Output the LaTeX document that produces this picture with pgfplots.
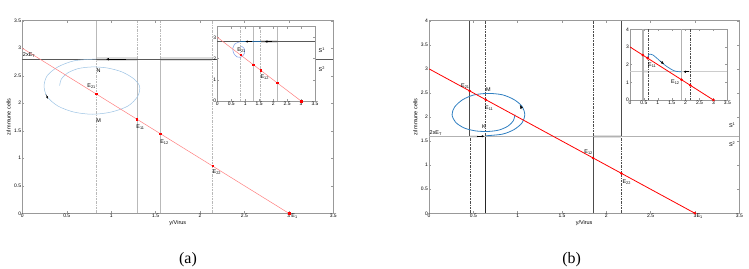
\documentclass[border=0pt]{standalone}
\usepackage{pgfplots}
\pgfplotsset{compat=1.18}
\usepackage{fontspec}
\setmainfont{Liberation Sans}
\newfontfamily\capfont{Liberation Serif}
\usetikzlibrary{arrows.meta}
\definecolor{spirA}{HTML}{9CC3E4}
\definecolor{spirB}{HTML}{2F7FC1}
\definecolor{redA}{HTML}{FF7F7F}
\definecolor{redB}{HTML}{FF0000}
\newcommand{\lab}{\fontsize{5.5}{6.5}\selectfont}
\pgfplotsset{
  common/.style={scale only axis, anchor=south west, clip=false,
    xmin=0, xmax=3.5, xtick={0,0.5,1,1.5,2,2.5,3,3.5},
    tick align=inside, axis line style={gray!80, line width=0.5bp},
    major tick length=2bp, tick style={gray!80, line width=0.4bp},
    ticklabel style={font=\fontsize{5}{6}\selectfont, inner sep=1bp},
    /pgf/number format/assume math mode=true,
    label style={font=\fontsize{5.5}{6.5}\selectfont},
    xlabel style={yshift=2bp}, ylabel style={yshift=-1bp}},
  dd/.style={dash pattern=on 2bp off 1bp on 0.5bp off 1bp},
}
\begin{document}
\begin{tikzpicture}[x=1bp,y=1bp]
\path[use as bounding box] (0,0) rectangle (749,268);

%================ (a) main ================
\begin{axis}[common, at={(22.3bp,54.7bp)}, width=311bp, height=192.6bp,
  ymin=0, ymax=3.5, ytick={0,0.5,1,1.5,2,2.5,3,3.5},
  xlabel={y/Virus}, ylabel={z/Immune cells}]
\addplot[gray!25, line width=3.5bp] coordinates {(0.83,2.8) (1.29,2.8)};
\addplot[gray!25, line width=3.5bp] coordinates {(1.55,2.8) (2.14,2.8)};
\addplot[gray!55, line width=0.5bp] coordinates {(0.83,2.8) (0.83,3.5)};
\addplot[gray!55, line width=0.5bp, dd] coordinates {(0.83,0) (0.83,2.8)};
\addplot[gray!55, line width=0.5bp, dd] coordinates {(1.29,2.8) (1.29,3.5)};
\addplot[gray!55, line width=0.5bp] coordinates {(1.29,0) (1.29,2.8)};
\addplot[gray!55, line width=0.5bp, dd] coordinates {(1.55,2.8) (1.55,3.5)};
\addplot[gray!55, line width=0.5bp] coordinates {(1.55,0) (1.55,2.8)};
\addplot[gray!55, line width=0.5bp, dd] coordinates {(2.14,0) (2.14,3.5)};
\addplot[gray!70!black, line width=0.5bp] coordinates {(0,2.8) (3.5,2.8)};
\addplot[spirA, smooth, line width=0.5bp] coordinates {
 (0.42,2.32) (0.44,2.44) (0.51,2.55) (0.63,2.63) (0.79,2.66) (0.96,2.64) (1.12,2.57)
 (1.25,2.45) (1.32,2.31) (1.30,2.13) (1.19,1.95) (1.00,1.84) (0.79,1.80) (0.58,1.84)
 (0.40,1.95) (0.28,2.12) (0.245,2.31) (0.28,2.50) (0.40,2.66) (0.58,2.77) (0.79,2.80) (0.83,2.80)};
\addplot[black, line width=1.1bp, -{Latex[length=3bp,width=2.6bp]}] coordinates {(1.17,2.8) (0.94,2.8)};
\addplot[black, line width=0.3bp, -{Latex[length=2.5bp,width=2bp]}] coordinates {(0.265,2.16) (0.29,2.08)};
\addplot[redA, line width=0.5bp] coordinates {(0,3) (3,0)};
\addplot[only marks, mark=square*, mark size=0.7bp, red] coordinates {(0.83,2.17) (1.29,1.71) (1.55,1.45) (2.14,0.86)};
\addplot[only marks, mark=square*, mark size=1.1bp, red] coordinates {(3,0)};
\node[font=\lab, anchor=west, inner sep=0.5bp] at (axis cs:0.0,2.87) {2xE\textsubscript{T}};
\node[font=\lab] at (axis cs:0.86,2.59) {N};
\node[font=\lab] at (axis cs:0.86,1.68) {M};
\node[font=\lab] at (axis cs:0.78,2.31) {E\textsubscript{21}};
\node[font=\lab] at (axis cs:1.33,1.56) {E\textsubscript{11}};
\node[font=\lab] at (axis cs:1.60,1.29) {E\textsubscript{12}};
\node[font=\lab] at (axis cs:2.19,0.74) {E\textsubscript{22}};
\node[font=\lab, anchor=west, inner sep=0.5bp] at (axis cs:3.02,-0.05) {E\textsubscript{1}};
\node[font=\lab] at (axis cs:3.37,2.96) {S\textsuperscript{1}};
\node[font=\lab] at (axis cs:3.37,2.61) {S\textsuperscript{2}};
\end{axis}

%================ (a) inset ================
\begin{axis}[common, at={(217.3bp,167bp)}, width=97.7bp, height=74.3bp,
  ymin=0, ymax=3.5, ytick={0,1,2,3}, axis background/.style={fill=white}]
\addplot[gray!25, line width=3bp] coordinates {(1.55,2.8) (2.14,2.8)};
\addplot[gray!55, line width=0.5bp, dd] coordinates {(0.83,0) (0.83,3.5)};
\addplot[gray!55, line width=0.5bp] coordinates {(1.29,0) (1.29,3.5)};
\addplot[gray!55, line width=0.5bp, dd] coordinates {(1.55,0) (1.55,3.5)};
\addplot[gray!55, line width=0.5bp] coordinates {(2.14,0) (2.14,3.5)};
\addplot[gray!70!black, line width=0.5bp] coordinates {(0,2.8) (3.5,2.8)};
\addplot[spirB!80!black, line width=0.7bp] coordinates {(0.83,2.8) (1.55,2.8)};
\addplot[spirA!80!blue, smooth, line width=0.5bp] coordinates {
 (0.80,2.78) (0.64,2.70) (0.56,2.50) (0.58,2.27) (0.70,2.08) (0.87,2.08) (0.98,2.27) (0.96,2.48) (0.86,2.58)};
\addplot[black, line width=1bp, -{Latex[length=2.5bp,width=2.4bp]}] coordinates {(1.25,2.8) (1.0,2.8)};
\addplot[black, line width=1bp, -{Latex[length=2.5bp,width=2.4bp]}] coordinates {(1.95,2.8) (1.7,2.8)};
\addplot[redA, line width=0.5bp] coordinates {(0,3) (3,0)};
\addplot[only marks, mark=square*, mark size=0.7bp, red] coordinates {(0.83,2.17) (1.29,1.71) (1.55,1.45) (2.14,0.86)};
\addplot[only marks, mark=square*, mark size=1.1bp, red] coordinates {(3,0)};
\node[font=\lab] at (axis cs:0.87,2.42) {E\textsubscript{21}};
\node[font=\lab] at (axis cs:1.70,1.12) {E\textsubscript{12}};
\end{axis}

%================ (b) main ================
\begin{axis}[common, at={(429bp,54.7bp)}, width=310.3bp, height=192.6bp,
  ymin=0, ymax=4, ytick={0,0.5,1,1.5,2,2.5,3,3.5,4},
  xlabel={y/Virus}, ylabel={z/Immune cells}]
\addplot[gray!25, line width=3.5bp] coordinates {(1.85,1.6) (2.17,1.6)};
\addplot[gray!15, line width=3bp] coordinates {(0.46,1.6) (0.55,1.6)};
\addplot[gray!60!black, line width=0.6bp] coordinates {(0.46,1.6) (0.46,4)};
\addplot[gray!60!black, line width=0.5bp, dd] coordinates {(0.46,0) (0.46,1.6)};
\addplot[gray!60!black, line width=0.5bp, dd] coordinates {(0.635,1.6) (0.635,4)};
\addplot[black!85, line width=0.6bp] coordinates {(0.635,0) (0.635,1.6)};
\addplot[gray!60!black, line width=0.5bp, dd] coordinates {(1.85,1.6) (1.85,4)};
\addplot[gray!60!black, line width=0.6bp] coordinates {(1.85,0) (1.85,1.6)};
\addplot[gray!60!black, line width=0.6bp] coordinates {(2.17,1.6) (2.17,4)};
\addplot[gray!60!black, line width=0.5bp, dd] coordinates {(2.17,0) (2.17,1.6)};
\addplot[gray!60, line width=0.6bp] coordinates {(0,1.6) (3.5,1.6)};
\addplot[black, line width=0.8bp, -{Latex[length=2.5bp,width=2.4bp]}] coordinates {(0.54,1.6) (0.625,1.6)};
\addplot[spirB, smooth, line width=0.8bp] coordinates {
 (0.64,1.61) (0.83,1.645) (0.96,1.74) (1.05,1.88) (1.08,2.05) (1.05,2.22) (0.96,2.36) (0.83,2.46)
 (0.67,2.49) (0.51,2.46) (0.38,2.36) (0.29,2.21) (0.26,2.05) (0.30,1.89) (0.40,1.77) (0.53,1.71)
 (0.67,1.70) (0.79,1.73) (0.89,1.81) (0.95,1.92) (0.97,2.05)};
\addplot[black, line width=0.3bp, -{Latex[length=3.5bp,width=3bp]}] coordinates {(1.05,2.16) (1.025,2.25)};
\addplot[redB, line width=0.8bp] coordinates {(0,3) (3,0)};
\addplot[only marks, mark=*, mark size=1.1bp, redB] coordinates {(0.46,2.54) (0.64,2.36) (1.85,1.15) (2.17,0.83) (3,0)};
\node[font=\lab, anchor=west, inner sep=0.5bp] at (axis cs:0.0,1.67) {2xE\textsubscript{T}};
\node[font=\lab] at (axis cs:0.41,2.64) {E\textsubscript{21}};
\node[font=\lab] at (axis cs:0.67,2.56) {M};
\node[font=\lab] at (axis cs:0.68,2.19) {E\textsubscript{11}};
\node[font=\lab] at (axis cs:0.62,1.81) {K};
\node[font=\lab] at (axis cs:1.80,1.27) {E\textsubscript{12}};
\node[font=\lab] at (axis cs:2.23,0.65) {E\textsubscript{22}};
\node[font=\lab, anchor=west, inner sep=0.5bp] at (axis cs:3.01,-0.05) {E\textsubscript{1}};
\node[font=\lab] at (axis cs:3.42,1.82) {S\textsuperscript{1}};
\node[font=\lab] at (axis cs:3.42,1.44) {S\textsuperscript{2}};
\end{axis}

%================ (b) inset ================
\begin{axis}[common, at={(630bp,168bp)}, width=97.3bp, height=70.7bp,
  ymin=0, ymax=4, ytick={0,1,2,3,4}, axis background/.style={fill=white}]
\addplot[gray!15, line width=2.5bp] coordinates {(0.47,1.6) (0.64,1.6)};
\addplot[gray!40, line width=0.6bp] coordinates {(0,1.6) (3.5,1.6)};
\addplot[gray!60, line width=1.2bp] coordinates {(0.47,0) (0.47,4)};
\addplot[gray!60!black, line width=0.5bp, dd] coordinates {(0.66,0) (0.66,4)};
\addplot[gray!60, line width=1.2bp] coordinates {(1.85,0) (1.85,4)};
\addplot[gray!60!black, line width=0.5bp, dd] coordinates {(2.17,0) (2.17,4)};
\addplot[spirB, smooth, line width=0.7bp] coordinates {
 (0.64,2.40) (0.68,2.58) (0.82,2.55) (1.05,2.25) (1.30,1.92) (1.55,1.68) (1.70,1.61) (1.85,1.60)};
\addplot[black, line width=0.3bp, -{Latex[length=3bp,width=2.6bp]}] coordinates {(1.08,2.20) (1.22,2.04)};
\addplot[black, line width=0.8bp, -{Latex[length=2.5bp,width=2.4bp]}] coordinates {(2.12,1.6) (1.92,1.6)};
\addplot[redB, line width=0.8bp] coordinates {(0,3) (3,0)};
\addplot[only marks, mark=*, mark size=1.1bp, redB] coordinates {(0.46,2.54) (0.64,2.36) (1.85,1.15) (2.17,0.83) (3,0)};
\node[font=\lab] at (axis cs:0.80,1.98) {E\textsubscript{11}};
\node[font=\lab] at (axis cs:1.63,1.02) {E\textsubscript{12}};
\end{axis}

\node[font=\capfont\fontsize{16}{18}\selectfont] at (188,8) {(a)};
\node[font=\capfont\fontsize{16}{18}\selectfont] at (571.7,8) {(b)};
\end{tikzpicture}
\end{document}
